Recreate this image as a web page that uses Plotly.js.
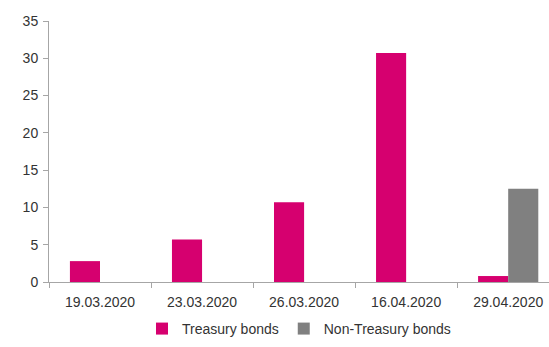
<!DOCTYPE html>
<html>
<head>
<meta charset="utf-8">
<script src="https://cdn.plot.ly/plotly-3.0.1.min.js"></script>
<style>html,body{margin:0;padding:0;background:#fff;}#chart{width:549px;height:347px;}</style>
</head>
<body>
<div id="chart"></div>
<script>
const categories = ["19.03.2020", "23.03.2020", "26.03.2020", "16.04.2020", "29.04.2020"];
const treasury = [2.8, 5.7, 10.7, 30.7, 0.8];
const nonTreasury = [0, 0, 0, 0, 12.5];
const yTicks = [0, 5, 10, 15, 20, 25, 30, 35];

const font = {family: "Liberation Sans, Arial, sans-serif", size: 14, color: "#333333"};

const data = [
  {type: "bar", name: "Treasury bonds", x: categories, y: treasury,
   marker: {color: "#d6006f"}, hoverinfo: "x+y"},
  {type: "bar", name: "Non-Treasury bonds", x: categories, y: nonTreasury,
   marker: {color: "#808080"}, hoverinfo: "x+y"}
];

const layout = {
  width: 549, height: 347,
  margin: {l: 49, r: 0, t: 21, b: 65},
  paper_bgcolor: "#ffffff", plot_bgcolor: "#ffffff",
  font: font,
  barmode: "group",
  bargap: 0.41,
  bargroupgap: 0,
  showlegend: true,
  legend: {orientation: "h", x: 0.5, xanchor: "center", y: -0.18, yanchor: "middle",
           font: font, itemwidth: 30},
  xaxis: {
    type: "category", range: [-0.5, 4.4],
    showline: true, linecolor: "#a6a6a6", linewidth: 1,
    ticks: "outside", tickson: "boundaries", ticklen: 5, tickcolor: "#a6a6a6",
    ticklabelstandoff: 7,
    showgrid: false, zeroline: false, tickfont: font, fixedrange: true
  },
  yaxis: {
    range: [0, 35], tickvals: yTicks, ticktext: yTicks.map(String),
    showline: true, linecolor: "#a6a6a6", linewidth: 1,
    ticks: "outside", ticklen: 5, tickcolor: "#a6a6a6",
    ticklabelstandoff: 2,
    showgrid: false, zeroline: false, tickfont: font, fixedrange: true
  }
};

Plotly.newPlot("chart", data, layout, {staticPlot: true, displayModeBar: false});
</script>
</body>
</html>
